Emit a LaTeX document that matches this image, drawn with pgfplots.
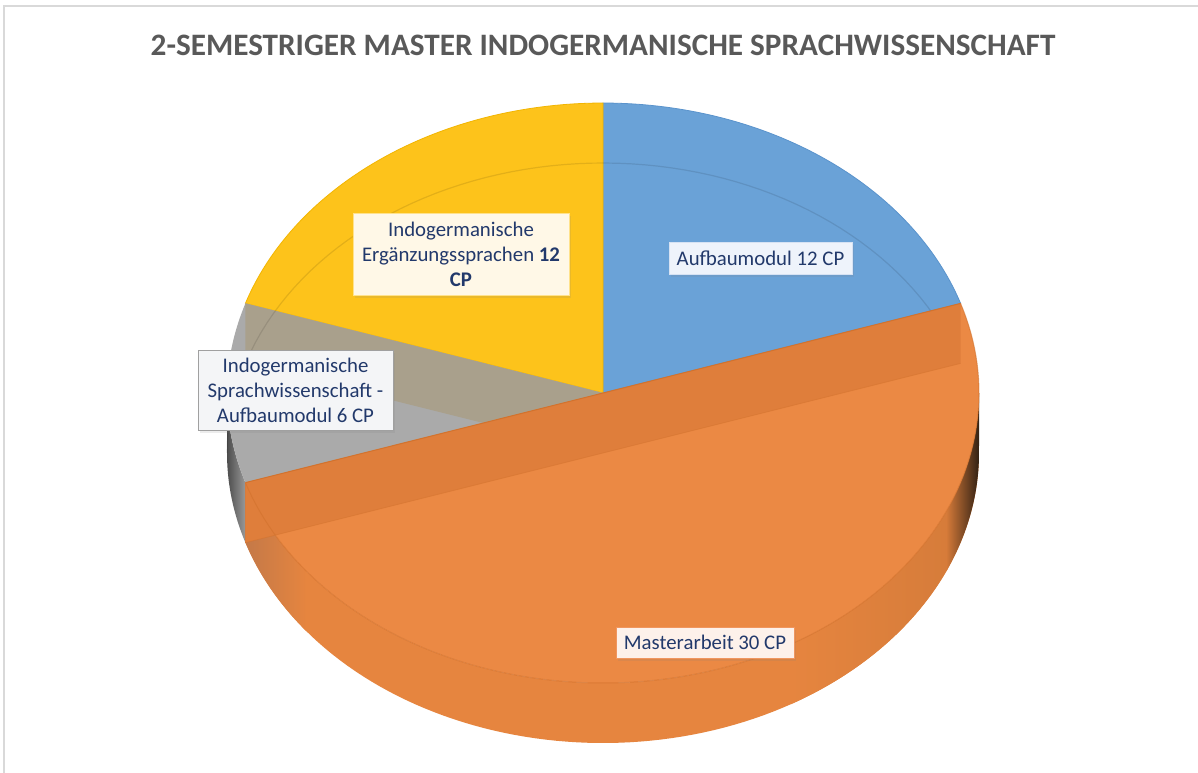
\documentclass[border=0pt]{standalone}
\usepackage{pgfplots}
\pgfplotsset{compat=1.18}
\usepackage{fontspec}
\setmainfont{Carlito}
\usetikzlibrary{shadows}
\definecolor{blueF}{HTML}{6AA2D7}
\definecolor{blueE}{HTML}{5A93CC}
\definecolor{yelF}{HTML}{FDC31B}
\definecolor{yelE}{HTML}{F2B500}
\definecolor{greyF}{HTML}{AAAAAA}
\definecolor{tanF}{HTML}{A9A08C}
\definecolor{oraF}{HTML}{EB8944}
\definecolor{oraW}{HTML}{E6853F}
\definecolor{oraBand}{HTML}{DF7E3B}
\definecolor{oraE}{HTML}{D2722D}
\definecolor{navy}{HTML}{22396B}
\definecolor{titlegrey}{HTML}{595959}
\begin{document}
\begin{tikzpicture}
% geometry of the pie (pixel units)
\def\cx{603}\def\cy{393}\def\rx{376}\def\ry{290}\def\dep{60}
% data (CP)
\def\vA{12}% Aufbaumodul
\def\vM{30}% Masterarbeit
\def\vG{6}%  Sprachwissenschaft - Aufbaumodul
\def\vY{12}% Erganzungssprachen
\pgfmathsetmacro\tot{\vA+\vM+\vG+\vY}
\pgfmathsetmacro\aA{90-360*\vA/\tot}
\pgfmathsetmacro\aM{\aA-360*\vM/\tot}
\pgfmathsetmacro\aG{\aM-360*\vG/\tot}
\pgfmathsetmacro\aY{\aG-360*\vY/\tot}
\pgfmathsetmacro\tM{\aM+360}
\pgfmathsetmacro\xA{\cx+\rx*cos(\aA)}\pgfmathsetmacro\yA{\cy-\ry*sin(\aA)}
\pgfmathsetmacro\xM{\cx+\rx*cos(\aM)}\pgfmathsetmacro\yM{\cy-\ry*sin(\aM)}
\pgfmathsetmacro\xG{\cx+\rx*cos(\aG)}\pgfmathsetmacro\yG{\cy-\ry*sin(\aG)}
\pgfmathsetmacro\yAd{\yA+\dep}\pgfmathsetmacro\yMd{\yM+\dep}\pgfmathsetmacro\yGd{\yG+\dep}
\pgfmathsetmacro\cyd{\cy+\dep}
\newcommand\wallpiece[3]{%
  \addplot[#3, draw=none, domain=0:2, samples=201]
   ({\cx+\rx*cos((x<1.0001) ? (#1+(#2-#1)*x) : (#2-(#2-#1)*(x-1)))},
    {\cy-\ry*sin((x<1.0001) ? (#1+(#2-#1)*x) : (#2-(#2-#1)*(x-1))) + ((x>1.0001) ? \dep : 0)}) -- cycle;}
\begin{axis}[width=599pt,height=386pt,scale only axis,
  xmin=0,xmax=1198,ymin=0,ymax=772,y dir=reverse,hide axis,clip=true]
\fill[white] (axis cs:0,0) rectangle (axis cs:1198,772);
\draw[color=black!15, line width=1pt] (axis cs:4,6) rectangle (axis cs:1220,800);
% side walls (front)
\wallpiece{180}{\tM}{left color=black!70, right color=black!40}
\wallpiece{\tM}{360}{fill=oraW}
\wallpiece{\tM}{218}{left color={rgb,255:red,196;green,121;blue,72}, right color=oraW}
\wallpiece{300}{337}{left color=oraW, right color={rgb,255:red,214;green,124;blue,58}}
\wallpiece{336}{360}{left color={rgb,255:red,212;green,122;blue,57}, right color={rgb,255:red,50;green,33;blue,20}}
% top faces
\addplot[fill=blueF, draw=blueE, line width=0.4pt, domain=\aA:90, samples=60]
  ({\cx+\rx*cos(x)},{\cy-\ry*sin(x)}) -- (axis cs:\cx,\cy) -- cycle;
\addplot[fill=yelF, draw=yelE, line width=0.4pt, domain=\aY:\aG, samples=60]
  ({\cx+\rx*cos(x)},{\cy-\ry*sin(x)}) -- (axis cs:\cx,\cy) -- cycle;
\addplot[fill=greyF, draw=none, domain=\aG:\aM, samples=40]
  ({\cx+\rx*cos(x)},{\cy-\ry*sin(x)}) -- (axis cs:\cx,\cy) -- cycle;
% wall of the yellow slice seen through the grey face
\addplot[fill=tanF, draw=none] coordinates {(\xG,\yG) (\cx,\cy) (\cx,\cyd) (\xG,\yGd)} -- cycle;
% faint back edge of the base
\addplot[draw=black, opacity=0.10, line width=0.6pt, domain=\aA:180, samples=80]
  ({\cx+\rx*cos(x)},{\cy+\dep-\ry*sin(x)});
% orange face
\addplot[fill=oraF, draw=none, domain=\aM:\aA, samples=120]
  ({\cx+\rx*cos(x)},{\cy-\ry*sin(x)}) -- (axis cs:\cx,\cy) -- cycle;
\addplot[fill=oraBand, draw=none] coordinates {(\xA,\yA) (\xM,\yM) (\xM,\yMd) (\xA,\yAd)} -- cycle;
\addplot[draw=oraE, line width=0.5pt] coordinates {(\xA,\yA) (\xM,\yM)};
\addplot[draw=oraE, opacity=0.45, line width=0.4pt] coordinates {(\xA,\yAd) (\xM,\yMd)};
\addplot[draw=oraE, opacity=0.6, line width=0.5pt, domain=\aM:\aA, samples=120]
  ({\cx+\rx*cos(x)},{\cy-\ry*sin(x)});
% labels
\tikzset{lab/.style={align=center, text=navy, inner sep=0pt,
  font=\fontsize{10.4}{12.5}\selectfont,
  drop shadow={opacity=0.15, shadow xshift=1.2pt, shadow yshift=-1.5pt}}}
\node[lab, fill={rgb,255:red,238;green,243;blue,251}, draw={rgb,255:red,214;green,226;blue,243},
  minimum width=91.5pt, minimum height=16pt] at (axis cs:760.5,258) {Aufbaumodul \vA\ CP};
\node[lab, fill={rgb,255:red,255;green,248;blue,231}, draw={rgb,255:red,255;green,226;blue,140},
  minimum width=108pt, minimum height=41pt] at (axis cs:461,254)
  {Indogermanische\\Ergänzungssprachen \textbf{\vY}\\\textbf{CP}};
\node[lab, fill={rgb,255:red,244;green,245;blue,247}, draw={rgb,255:red,160;green,160;blue,160},
  minimum width=97.5pt, minimum height=40pt] at (axis cs:295.5,390)
  {Indogermanische\\Sprachwissenschaft -\\Aufbaumodul \vG\ CP};
\node[lab, fill={rgb,255:red,253;green,241;blue,234}, draw={rgb,255:red,240;green,150;blue,95},
  minimum width=89pt, minimum height=15.5pt] at (axis cs:705,642.5) {Masterarbeit \vM\ CP};
% title
\node[font=\bfseries\fontsize{15.6}{18}\selectfont, text=titlegrey] at (axis cs:603,45)
  {2-SEMESTRIGER MASTER INDOGERMANISCHE SPRACHWISSENSCHAFT};
\end{axis}
\end{tikzpicture}
\end{document}
